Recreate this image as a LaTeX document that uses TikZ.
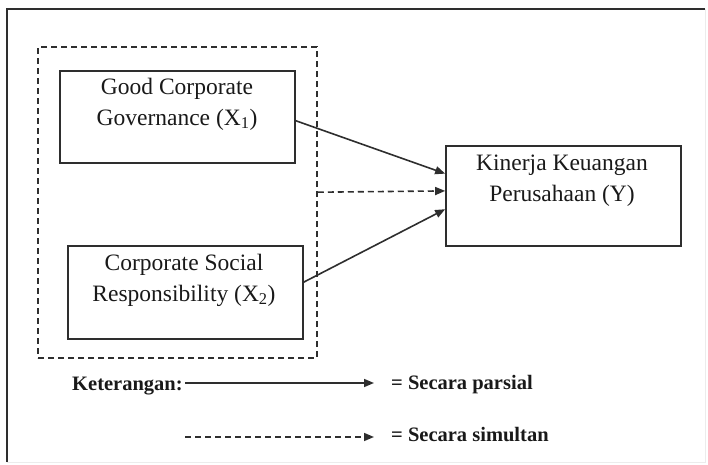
\documentclass[tikz,border=0pt]{standalone}
\usepackage{fontspec}
\setmainfont{Liberation Serif}
\usetikzlibrary{arrows.meta,calc}
\definecolor{ink}{HTML}{2E2E2E}
\tikzset{
  varbox/.style={draw=ink,line width=1.7pt,inner sep=0pt},
  vartext/.style={inner sep=0pt,align=center,text=black!90,font=\fontsize{23.5}{31}\selectfont},
  legtext/.style={inner sep=0pt,anchor=west,text=black!90,font=\bfseries\fontsize{20.5}{24}\selectfont},
  solidarrow/.style={draw=ink,line width=1.6pt,-{Triangle[length=10pt,width=8pt]}},
  dasharrow/.style={draw=ink,line width=1.6pt,dash pattern=on 6pt off 4pt,-{Triangle[length=10pt,width=8pt]}},
  groupbox/.style={draw=ink,line width=1.5pt,dash pattern=on 6pt off 4pt,inner sep=0pt}
}
\begin{document}
\begin{tikzpicture}[x=1pt,y=-1pt]
\useasboundingbox (0,0) rectangle (708,464);
% frame
\draw[gray!15,line width=1pt] (705,9) -- (705,462) -- (7,462);
\draw[ink,line width=1.8pt] (7,462) -- (7,9) -- (705,9);
% group (dashed) box
\node[groupbox,minimum width=279pt,minimum height=311pt] (grp) at (177.5,202.5) {};
% boxes
\node[varbox,minimum width=235pt,minimum height=92pt] (gcg) at (177.5,117) {};
\node[varbox,minimum width=235pt,minimum height=93pt] (csr) at (185.5,292.5) {};
\node[varbox,minimum width=235pt,minimum height=100pt] (kin) at (563.5,196) {};
% texts
\node[vartext] (gcgt) at (177,104) {Good Corporate\\Governance (X\textsubscript{1})};
\node[vartext] (csrt) at (184,280) {Corporate Social\\Responsibility (X\textsubscript{2})};
\node[vartext] (kint) at (562,181) {Kinerja Keuangan\\Perusahaan (Y)};
% connectors
\draw[solidarrow] ($(gcg.north east)!0.54!(gcg.south east)$) -- ($(kin.north west)!0.28!(kin.south west)$);
\draw[dasharrow] ($(grp.north east)!0.467!(grp.south east)$) -- ($(kin.north west)!0.45!(kin.south west)$);
\draw[solidarrow] ($(csr.north east)!0.39!(csr.south east)$) -- ($(kin.north west)!0.63!(kin.south west)$);
% legend
\node[legtext] (ket) at (72,386) {Keterangan:};
\node[legtext] (par) at (391,385) {= Secara parsial};
\node[legtext] (sim) at (391,435) {= Secara simultan};
\coordinate (ls) at (185,383);
\coordinate (le) at (374,383);
\coordinate (ds) at (185,437);
\coordinate (de) at (374,437);
\draw[solidarrow] (ls) -- (le);
\draw[dasharrow] (ds) -- (de);
\end{tikzpicture}
\end{document}
